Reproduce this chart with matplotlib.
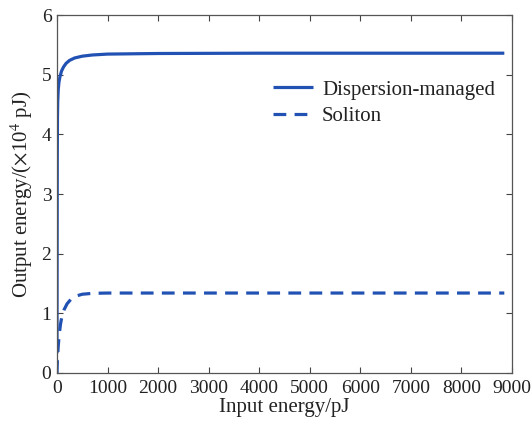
import matplotlib
matplotlib.use("Agg")
import matplotlib.pyplot as plt

plt.rcParams['font.family'] = ['Liberation Serif', 'DejaVu Serif']
plt.rcParams['mathtext.fontset'] = 'stix'

# Output energy (x10^4 pJ) versus input energy (pJ)
dm_input = [0, 3, 6, 10, 15, 25, 40, 60, 90, 130, 180, 250, 350, 500, 700, 1000, 2000, 4000, 6000, 8850]
dm_output = [0.33, 2.0, 3.6, 4.3, 4.55, 4.75, 4.88, 4.97, 5.06, 5.13, 5.19, 5.24, 5.28, 5.31, 5.33, 5.345, 5.355, 5.36, 5.36, 5.36]

sol_input = [0, 10, 25, 45, 70, 100, 140, 200, 280, 380, 500, 700, 1000, 2000, 4000, 6000, 8850]
sol_output = [0.0, 0.25, 0.45, 0.65, 0.82, 0.96, 1.06, 1.16, 1.24, 1.29, 1.32, 1.335, 1.34, 1.34, 1.34, 1.34, 1.34]

x_ticks = [0, 1000, 2000, 3000, 4000, 5000, 6000, 7000, 8000, 9000]
y_ticks = [0, 1, 2, 3, 4, 5, 6]

color = '#2152b3'
text_color = '#222222'

fig = plt.figure(figsize=(5.31, 4.24), dpi=100)
ax = fig.add_axes([0.1073, 0.1203, 0.8567, 0.8443])

ax.plot(dm_input, dm_output, color=color, lw=2.3, solid_capstyle='butt',
        label='Dispersion-managed')
ax.plot(sol_input, sol_output, color=color, lw=2.3, ls=(0, (4, 2.6)),
        label='Soliton')

ax.set_xlim(0, 9000)
ax.set_ylim(0, 6)
ax.set_xticks(x_ticks)
ax.set_yticks(y_ticks)
ax.tick_params(direction='in', top=True, right=True, length=4, width=0.8,
               labelsize=14, colors='#444444', labelcolor=text_color, pad=4)
ax.tick_params(axis='x', pad=5)
for sp in ax.spines.values():
    sp.set_color('#555555')
    sp.set_linewidth(0.9)

ax.set_xlabel('Input energy/pJ', fontsize=15, color=text_color, labelpad=1)
ax.set_ylabel(r'Output energy/($\times$10$^4$ pJ)', fontsize=15,
              color=text_color, labelpad=5)

leg = ax.legend(loc='upper left', bbox_to_anchor=(0.4747, 0.818), frameon=False,
                fontsize=15, handlelength=1.9, handletextpad=0.45,
                labelspacing=0.34, borderaxespad=0, borderpad=0)
for t in leg.get_texts():
    t.set_color(text_color)

fig.savefig('out.png', dpi=100)
